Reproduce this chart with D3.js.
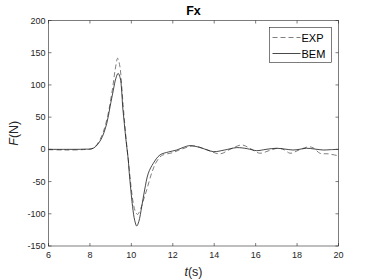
<!DOCTYPE html>
<html lang="en">
<head>
    <meta charset="utf-8">
    <title>Fx</title>
    <script src="https://d3js.org/d3.v7.min.js"></script>
    <style>
        body { margin: 0; background: #fff; }
        text { font-family: "Liberation Sans", Arial, sans-serif; }
    </style>
</head>
<body>
    <script type="text/javascript">
        // values
        var tBEM = [6, 7, 7.7, 8.16, 8.52, 8.81, 8.97, 9.13, 9.25, 9.36, 9.46, 9.53, 9.58, 9.66, 9.74, 9.85, 9.9, 10.06, 10.16, 10.26, 10.36, 10.5, 10.64, 10.82, 11.06, 11.38, 11.8, 12.19, 12.5, 12.83, 13.3, 13.96, 14.5, 15.09, 15.6, 16.05, 16.5, 17.0, 17.4, 17.8, 18.1, 18.45, 18.85, 19.27, 19.6, 20];
        var fBEM = [0, 0, 0.3, 1.7, 14.6, 40, 66, 92, 110, 118, 111, 92, 66, 40, 14.6, -16, -37, -89, -110, -119, -112, -89, -63, -37, -21.6, -8.7, -4, -1, 3, 5.8, 3, -3.5, -1, 2.7, 1, -2, 0, 1.7, 0.5, -1, 0, 1.7, 0.5, -1, -0.5, 0];
        var tEXP = [6, 6.8, 7.7, 8.16, 8.5, 8.8, 9.08, 9.22, 9.34, 9.45, 9.53, 9.6, 9.68, 9.76, 9.87, 10.0, 10.1, 10.2, 10.3, 10.45, 10.6, 10.74, 11.0, 11.2, 11.45, 12.0, 12.4, 13.0, 13.6, 14.28, 14.76, 15.33, 15.7, 16.2, 16.65, 17.1, 17.4, 17.66, 18.1, 18.55, 18.8, 19.1, 19.5, 20];
        var fEXP = [-0.5, -1, -0.3, 2, 16, 44, 92, 124, 141.5, 128, 100, 70, 40, 12, -22, -62, -85, -97, -101, -92, -77, -63, -35, -20, -10, -5, 0, 5.3, 0, -7, 0, 6.8, 2, -6, -2, 1.7, -1, -6, -1, 4, 2, -6, -7, -10];

        var xTicks = [6, 8, 10, 12, 14, 16, 18, 20];
        var yTicks = [-150, -100, -50, 0, 50, 100, 150, 200];

        var w = 374, h = 280;
        var mLeft = 48.5, mRight = 338.5, mTop = 20.5, mBottom = 246;

        var svg = d3.select("body").append("svg")
            .attr("width", w).attr("height", h);

        var x = d3.scaleLinear().domain([6, 20]).range([mLeft, mRight]);
        var y = d3.scaleLinear().domain([-150, 200]).range([mBottom, mTop]);

        var axisColor = "#262626";
        var tickLen = 3;

        // frame
        svg.append("rect")
            .attr("x", mLeft).attr("y", mTop)
            .attr("width", mRight - mLeft).attr("height", mBottom - mTop)
            .attr("fill", "none").attr("stroke", axisColor).attr("stroke-width", 0.6);

        // x ticks (inside, top and bottom)
        xTicks.forEach(function(v) {
            var px = x(v);
            svg.append("line").attr("x1", px).attr("x2", px)
                .attr("y1", mBottom).attr("y2", mBottom - tickLen)
                .attr("stroke", axisColor).attr("stroke-width", 0.6);
            svg.append("line").attr("x1", px).attr("x2", px)
                .attr("y1", mTop).attr("y2", mTop + tickLen)
                .attr("stroke", axisColor).attr("stroke-width", 0.6);
            svg.append("text").attr("x", px).attr("y", mBottom + 11.5)
                .attr("text-anchor", "middle").attr("font-size", 9)
                .attr("fill", axisColor).text(v);
        });

        yTicks.forEach(function(v) {
            var py = y(v);
            svg.append("line").attr("x1", mLeft).attr("x2", mLeft + tickLen)
                .attr("y1", py).attr("y2", py)
                .attr("stroke", axisColor).attr("stroke-width", 0.6);
            svg.append("line").attr("x1", mRight).attr("x2", mRight - tickLen)
                .attr("y1", py).attr("y2", py)
                .attr("stroke", axisColor).attr("stroke-width", 0.6);
            svg.append("text").attr("x", mLeft - 3).attr("y", py + 3)
                .attr("text-anchor", "end").attr("font-size", 9)
                .attr("fill", axisColor).text(v);
        });

        // lines
        var line = d3.line()
            .x(function(d) { return x(d[0]); })
            .y(function(d) { return y(d[1]); })
            .curve(d3.curveCatmullRom.alpha(0.5));

        var plot = svg.append("g");
        plot.append("path")
            .datum(d3.zip(tEXP, fEXP))
            .attr("d", line)
            .attr("fill", "none").attr("stroke", "#707070")
            .attr("stroke-width", 0.9).attr("stroke-dasharray", "5,3");
        plot.append("path")
            .datum(d3.zip(tBEM, fBEM))
            .attr("d", line)
            .attr("fill", "none").attr("stroke", "#1a1a1a")
            .attr("stroke-width", 0.8);

        // title and labels
        svg.append("text").attr("x", (mLeft + mRight) / 2).attr("y", 15)
            .attr("text-anchor", "middle").attr("font-size", 12.5)
            .attr("font-weight", "bold").attr("fill", "#000").text("Fx");

        var xl = svg.append("text").attr("x", (mLeft + mRight) / 2).attr("y", 275.5)
            .attr("text-anchor", "middle").attr("font-size", 12.5).attr("fill", axisColor);
        xl.append("tspan").attr("font-style", "italic").text("t");
        xl.append("tspan").text("(s)");

        var yl = svg.append("text")
            .attr("transform", "translate(18," + ((mTop + mBottom) / 2) + ") rotate(-90)")
            .attr("text-anchor", "middle").attr("font-size", 12.5).attr("fill", axisColor);
        yl.append("tspan").attr("font-style", "italic").text("F");
        yl.append("tspan").text("(N)");

        // legend
        var lg = svg.append("g").attr("transform", "translate(269.5,27.5)");
        lg.append("rect").attr("width", 62).attr("height", 35)
            .attr("fill", "#fff").attr("stroke", axisColor).attr("stroke-width", 0.6);
        lg.append("line").attr("x1", 3).attr("x2", 31).attr("y1", 10).attr("y2", 10)
            .attr("stroke", "#707070").attr("stroke-width", 0.9).attr("stroke-dasharray", "5,3");
        lg.append("text").attr("x", 32).attr("y", 14).attr("font-size", 11)
            .attr("fill", "#000").text("EXP");
        lg.append("line").attr("x1", 3).attr("x2", 31).attr("y1", 26).attr("y2", 26)
            .attr("stroke", "#1a1a1a").attr("stroke-width", 0.8);
        lg.append("text").attr("x", 32).attr("y", 30).attr("font-size", 11)
            .attr("fill", "#000").text("BEM");
    </script>
</body>
</html>
